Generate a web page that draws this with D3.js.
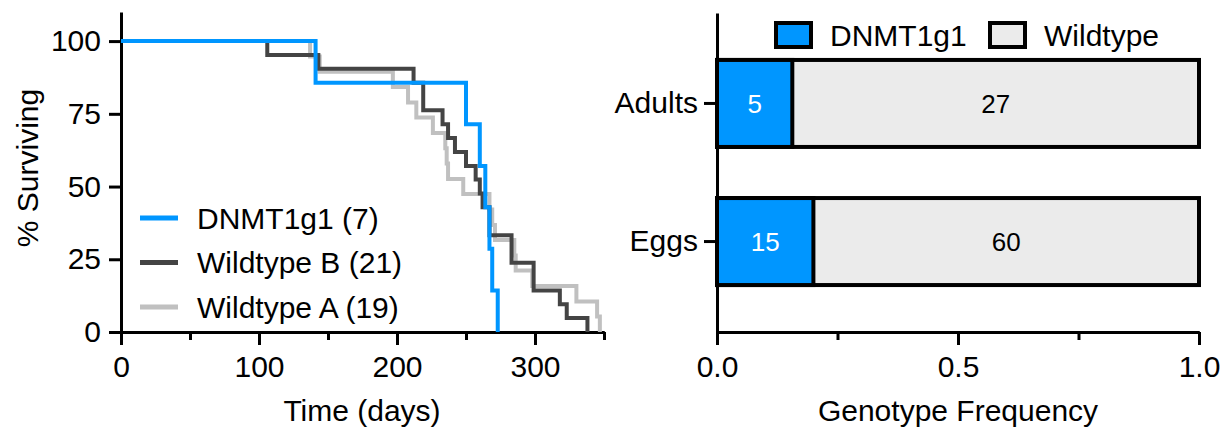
<!doctype html>
<html lang="en">
<head>
  <meta charset="utf-8">
  <title>Survival and genotype frequency - D3</title>
  <style>
    body { margin: 0; background: #fff; }
    svg text { font-family: "Liberation Sans", Arial, Helvetica, sans-serif; fill: #000; }
  </style>
</head>
<body>
  <svg width="1225" height="433"></svg>

  <script src="https://cdn.jsdelivr.net/npm/d3@7"></script>
  <script>
    // --- survival curves (Kaplan-Meier steps) ---
    var dnmtDays = [0, 141, 250, 260, 264, 267, 269, 273];
    var dnmtSurv = [100, 85.7, 71.4, 57.1, 42.9, 28.6, 14.3, 0];
    var wtBDays = [0, 106, 143, 212, 219, 233, 237, 242, 250, 257, 260, 262, 267, 283, 299, 318, 323, 338];
    var wtBSurv = [100, 95.2, 90.5, 85.7, 76.2, 71.4, 66.7, 61.9, 57.1, 52.4, 47.6, 42.9, 33.3, 23.8, 14.3, 9.5, 4.8, 0];
    var wtADays = [0, 137, 144, 197, 208, 214, 226, 235, 236, 237, 248, 267, 269, 271, 285, 286, 298, 330, 345, 347];
    var wtASurv = [100, 94.7, 89.5, 84.2, 78.9, 73.7, 68.4, 63.2, 57.9, 52.6, 47.4, 42.1, 36.8, 31.6, 26.3, 21.1, 15.8, 10.5, 5.3, 0];
    var survLabels = ['DNMT1g1 (7)', 'Wildtype B (21)', 'Wildtype A (19)'];

    var timeTicks = [0, 100, 200, 300];
    var timeMinor = [50, 150, 250, 350];
    var survTicks = [0, 25, 50, 75, 100];

    // --- genotype counts ---
    var groups = ['Adults', 'Eggs'];
    var dnmtCounts = [5, 15];
    var wtCounts = [27, 60];
    var genoLabels = ['DNMT1g1', 'Wildtype'];
    var freqTicks = [0, 0.5, 1];
    var freqMinor = [0.25, 0.75];

    var blue = '#0096ff', dark = '#444444', light = '#c0c0c0', boxGray = '#ebebeb';
    var fs = 30;

    var svg = d3.select('svg');

    // ================= left panel =================
    var x = d3.scaleLinear().domain([0, 350]).range([121, 604]);
    var y = d3.scaleLinear().domain([0, 110]).range([332, 12]);

    var gx = svg.append('g').attr('transform', 'translate(0,332)');
    gx.call(d3.axisBottom(x).tickValues(timeMinor).tickSize(8).tickSizeOuter(0).tickFormat(''));
    gx.append('g').call(d3.axisBottom(x).tickValues(timeTicks).tickSize(13).tickSizeOuter(0).tickPadding(9));

    var gy = svg.append('g').attr('transform', 'translate(121,0)')
      .call(d3.axisLeft(y).tickValues(survTicks).tickSize(12).tickSizeOuter(0).tickPadding(8));

    [gx, gy].forEach(function (g) {
      g.selectAll('path, line').attr('stroke', '#000').attr('stroke-width', 3);
      g.selectAll('text').attr('font-size', fs).attr('fill', '#000');
    });
    gx.selectAll('text').attr('dy', '0.75em');

    var line = d3.line()
      .x(function (d) { return x(d[0]); })
      .y(function (d) { return y(d[1]); })
      .curve(d3.curveStepAfter);

    var curves = [
      { days: wtADays, surv: wtASurv, color: light },
      { days: wtBDays, surv: wtBSurv, color: dark },
      { days: dnmtDays, surv: dnmtSurv, color: blue }
    ];
    svg.append('g').selectAll('path').data(curves).enter()
      .append('path')
      .attr('d', function (c) { return line(d3.zip(c.days, c.surv)); })
      .attr('fill', 'none')
      .attr('stroke', function (c) { return c.color; })
      .attr('stroke-width', 4);

    var leg = svg.append('g').selectAll('g').data(survLabels).enter()
      .append('g')
      .attr('transform', function (d, i) { return 'translate(140,' + (218 + i * 44.5) + ')'; });
    leg.append('line')
      .attr('x1', 0).attr('x2', 38)
      .attr('stroke', function (d, i) { return [blue, dark, light][i]; })
      .attr('stroke-width', 5);
    leg.append('text')
      .attr('x', 57).attr('dy', '0.36em')
      .attr('font-size', fs)
      .text(function (d) { return d; });

    svg.append('text')
      .attr('x', 362).attr('y', 421)
      .attr('text-anchor', 'middle').attr('font-size', fs)
      .text('Time (days)');
    svg.append('text')
      .attr('transform', 'translate(38,168) rotate(-90)')
      .attr('text-anchor', 'middle').attr('font-size', fs)
      .text('% Surviving');

    // ================= right panel =================
    var fx = d3.scaleLinear().domain([0, 1]).range([717, 1199]);
    var fy = d3.scaleBand().domain(groups).range([13, 332]).paddingInner(0.37).paddingOuter(0.34);

    var rows = groups.map(function (g, i) {
      var total = dnmtCounts[i] + wtCounts[i];
      return { group: g, dnmt: dnmtCounts[i], wt: wtCounts[i], split: dnmtCounts[i] / total };
    });

    var bars = svg.append('g').selectAll('g').data(rows).enter().append('g');
    bars.append('rect')
      .attr('x', fx(0))
      .attr('y', function (d) { return fy(d.group); })
      .attr('width', function (d) { return fx(1) - fx(0); })
      .attr('height', fy.bandwidth())
      .attr('fill', boxGray).attr('stroke', '#000').attr('stroke-width', 4);
    bars.append('rect')
      .attr('x', fx(0))
      .attr('y', function (d) { return fy(d.group); })
      .attr('width', function (d) { return fx(d.split) - fx(0); })
      .attr('height', fy.bandwidth())
      .attr('fill', blue).attr('stroke', '#000').attr('stroke-width', 4);
    bars.append('text')
      .attr('x', function (d) { return fx(d.split / 2); })
      .attr('y', function (d) { return fy(d.group) + fy.bandwidth() / 2; })
      .attr('dy', '0.36em').attr('text-anchor', 'middle').attr('font-size', 26)
      .style('fill', '#fff')
      .text(function (d) { return d.dnmt; });
    bars.append('text')
      .attr('x', function (d) { return fx((d.split + 1) / 2); })
      .attr('y', function (d) { return fy(d.group) + fy.bandwidth() / 2; })
      .attr('dy', '0.36em').attr('text-anchor', 'middle').attr('font-size', 26)
      .text(function (d) { return d.wt; });

    var fgx = svg.append('g').attr('transform', 'translate(0,332)');
    fgx.call(d3.axisBottom(fx).tickValues(freqMinor).tickSize(8).tickSizeOuter(0).tickFormat(''));
    fgx.append('g').call(d3.axisBottom(fx).tickValues(freqTicks).tickSize(13).tickSizeOuter(0)
      .tickPadding(9).tickFormat(d3.format('.1f')));
    fgx.selectAll('text').attr('dy', '0.75em');

    var fgy = svg.append('g').attr('transform', 'translate(717,0)')
      .call(d3.axisLeft(fy).tickSize(13).tickSizeOuter(0).tickPadding(6));

    [fgx, fgy].forEach(function (g) {
      g.selectAll('path, line').attr('stroke', '#000').attr('stroke-width', 3);
      g.selectAll('text').attr('font-size', fs).attr('fill', '#000');
    });

    var fleg = svg.append('g').selectAll('g').data(genoLabels).enter()
      .append('g')
      .attr('transform', function (d, i) { return 'translate(' + [776, 990][i] + ',23)'; });
    fleg.append('rect')
      .attr('width', 35).attr('height', 24)
      .attr('fill', function (d, i) { return [blue, boxGray][i]; })
      .attr('stroke', '#000').attr('stroke-width', 4);
    fleg.append('text')
      .attr('x', 54).attr('y', 12).attr('dy', '0.36em')
      .attr('font-size', fs)
      .text(function (d) { return d; });

    svg.append('text')
      .attr('x', 958).attr('y', 421)
      .attr('text-anchor', 'middle').attr('font-size', fs)
      .text('Genotype Frequency');
  </script>
</body>
</html>
